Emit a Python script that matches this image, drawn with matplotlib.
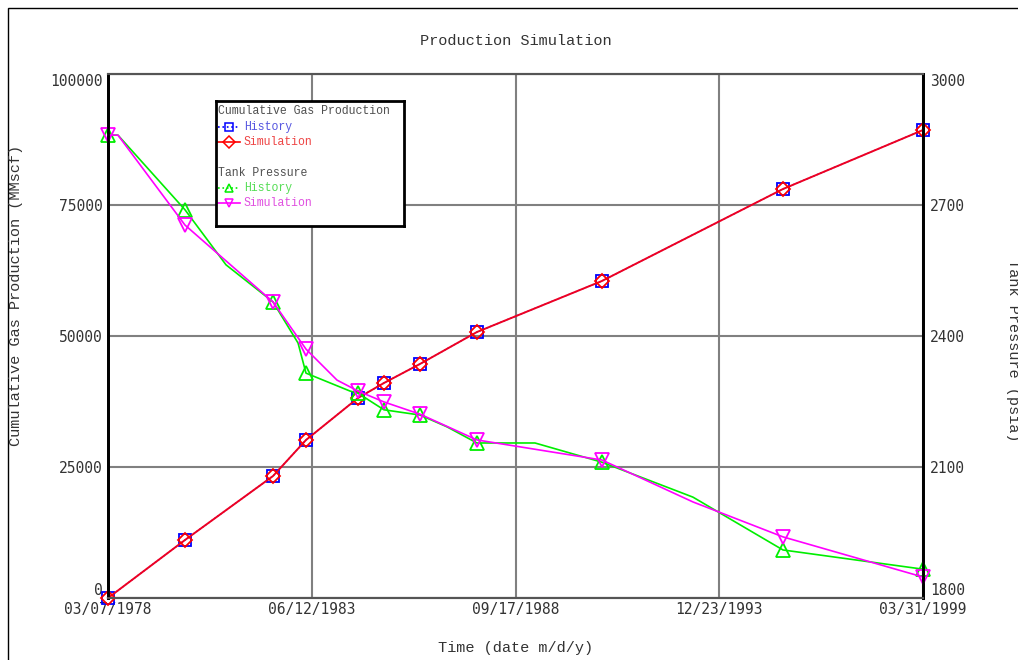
import matplotlib
matplotlib.use("Agg")
import matplotlib.pyplot as plt
from matplotlib.lines import Line2D
from matplotlib.patches import Rectangle
import pandas as pd

START = "1978-03-07"

# cumulative gas production (MMscf), days since START
gas_hist_day = [0, 727, 1558, 1869, 2360, 2605, 2945, 3483, 4663, 6372, 7694]
gas_hist = [0, 11070, 23280, 30150, 38170, 41030, 44660, 50760, 60500, 78050, 89310]
gas_sim_day = [0, 727, 1558, 1869, 2360, 2605, 2945, 3483, 4663, 6372, 7694]
gas_sim = [0, 11070, 23280, 30150, 38170, 41030, 44660, 50760, 60500, 78050, 89310]

# tank pressure (psia)
p_hist_day = [0, 94, 727, 1114, 1558, 1794, 1869, 2284, 2360, 2605, 2945, 3200,
              3483, 4031, 4663, 5522, 6372, 7694]
p_hist = [2860, 2860, 2689, 2563, 2478, 2384, 2315, 2274, 2269, 2231, 2219, 2192,
          2155, 2155, 2111, 2031, 1910, 1866]
p_hist_marks = [0, 2, 4, 6, 8, 9, 10, 12, 14, 16, 17]
p_sim_day = [0, 94, 727, 1558, 1869, 2162, 2360, 2605, 2945, 3483, 4663, 5522, 6372, 7694]
p_sim = [2860, 2860, 2654, 2478, 2370, 2299, 2274, 2249, 2221, 2162, 2116, 2020, 1940, 1848]
p_sim_marks = [0, 2, 3, 4, 6, 7, 8, 9, 10, 12, 13]

x_ticks = ["1978-03-07", "1983-06-12", "1988-09-17", "1993-12-23", "1999-03-31"]
gas_ticks = [0, 25000, 50000, 75000, 100000]
p_ticks = [1800, 2100, 2400, 2700, 3000]

MONO = "Liberation Mono"
TICKF = "DejaVu Sans Mono"
TXT = "#333333"


def to_dates(days):
    return (pd.Timestamp(START) + pd.to_timedelta(days, unit="D")).values


W, H = 1018, 660
fig = plt.figure(figsize=(W / 100, H / 100), dpi=100)
fig.patches.append(Rectangle((7.5 / W, -0.1), 1.2, 1.1 - 8 / H, transform=fig.transFigure,
                             fill=False, edgecolor="black", lw=1.0, clip_on=False))

ax = fig.add_axes([108 / W, 1 - 598 / H, (923 - 108) / W, (598 - 74) / H])
ax2 = ax.twinx()

# gas
ax.plot(to_dates(gas_hist_day), gas_hist, color="blue", ls=":", lw=1.0,
        marker="s", ms=9, mfc="none", mec="blue", mew=1.3, zorder=3, clip_on=False)
ax.plot(to_dates(gas_sim_day), gas_sim, color="#ee0022", lw=1.4,
        marker="D", ms=7.5, mfc="none", mec="red", mew=1.3, zorder=4, clip_on=False)

# pressure
ax2.plot(to_dates(p_hist_day), p_hist, color="#00ee00", lw=1.2,
         marker="^", ms=10, mfc="none", mec="#00ee00", mew=1.3,
         markevery=p_hist_marks, clip_on=False)
ax2.plot(to_dates(p_sim_day), p_sim, color="magenta", lw=1.2,
         marker="v", ms=10, mfc="none", mec="magenta", mew=1.3,
         markevery=p_sim_marks, clip_on=False)

xt = pd.to_datetime(x_ticks)
ax.set_xlim(xt[0], xt[-1])
ax.set_xticks(xt.values, labels=[d.strftime("%m/%d/%Y") for d in xt])
ax.set_ylim(0, 100000)
ax.set_yticks(gas_ticks, labels=[str(v) for v in gas_ticks])
ax2.set_ylim(1800, 3000)
ax2.set_yticks(p_ticks, labels=[str(v) for v in p_ticks])

ax.grid(True, color="#808080", lw=1.5)
ax.set_axisbelow(True)
for a in (ax, ax2):
    a.tick_params(length=0, labelsize=10.5, labelcolor=TXT)
    for lbl in a.get_xticklabels() + a.get_yticklabels():
        lbl.set_fontfamily(TICKF)
    for s in ("top", "bottom"):
        a.spines[s].set_color("#555555")
        a.spines[s].set_linewidth(1.5)
    a.spines["left"].set_color("black")
    a.spines["right"].set_color("black")
    a.spines["left"].set_linewidth(2)
    a.spines["right"].set_linewidth(2)
ax.tick_params(axis="y", pad=4)
ax.tick_params(axis="x", pad=3)
ax2.tick_params(axis="y", pad=5)

yt = ax.yaxis.get_major_ticks()
yt[0].label1.set_va("bottom")
yt[-1].label1.set_va("top")
pt = ax2.yaxis.get_major_ticks()
pt[0].label2.set_va("bottom")
pt[-1].label2.set_va("top")

fig.text(516 / W, 1 - 41 / H, "Production Simulation", family=MONO, size=11,
         color=TXT, ha="center", va="center")
fig.text(516 / W, 1 - 648 / H, "Time (date m/d/y)", family=MONO, size=11,
         color=TXT, ha="center", va="center")
fig.text(16 / W, 1 - 295 / H, "Cumulative Gas Production (MMscf)", family=MONO,
         size=11, color=TXT, rotation=90, ha="center", va="center")
fig.text(1013 / W, 1 - 350 / H, "Tank Pressure (psia)", family=MONO,
         size=11, color=TXT, rotation=270, ha="center", va="center")

# legend box drawn by hand
lx0, ly0, lx1, ly1 = 216, 101, 404, 226
lg = fig.add_axes([lx0 / W, 1 - ly1 / H, (lx1 - lx0) / W, (ly1 - ly0) / H], zorder=10)
lg.set_xlim(0, lx1 - lx0)
lg.set_ylim(ly1 - ly0, 0)
lg.set_xticks([])
lg.set_yticks([])
for s in lg.spines.values():
    s.set_linewidth(2)
    s.set_color("black")

rows = [
    (10, "Cumulative Gas Production", "#505050", None),
    (26, "History", "#5555e0", dict(color="blue", ls=":", marker="s")),
    (41, "Simulation", "#ee4444", dict(color="red", ls="-", marker="D")),
    (72, "Tank Pressure", "#505050", None),
    (87, "History", "#55dd55", dict(color="#00ee00", ls=":", marker="^")),
    (102, "Simulation", "#e050e0", dict(color="magenta", ls="-", marker="v")),
]
for y, text, tc, h in rows:
    if h is None:
        lg.text(2, y, text, family=MONO, size=8.3, color=tc, va="center", ha="left")
    else:
        lg.add_line(Line2D([2, 24], [y, y], color=h["color"], ls=h["ls"], lw=1.2))
        lg.add_line(Line2D([13], [y], marker=h["marker"], ms=6, mfc="none",
                           mec=h["color"], mew=1.1, ls="none"))
        lg.text(28, y, text, family=MONO, size=8.3, color=tc, va="center", ha="left")

fig.savefig("out.png", dpi=100)
